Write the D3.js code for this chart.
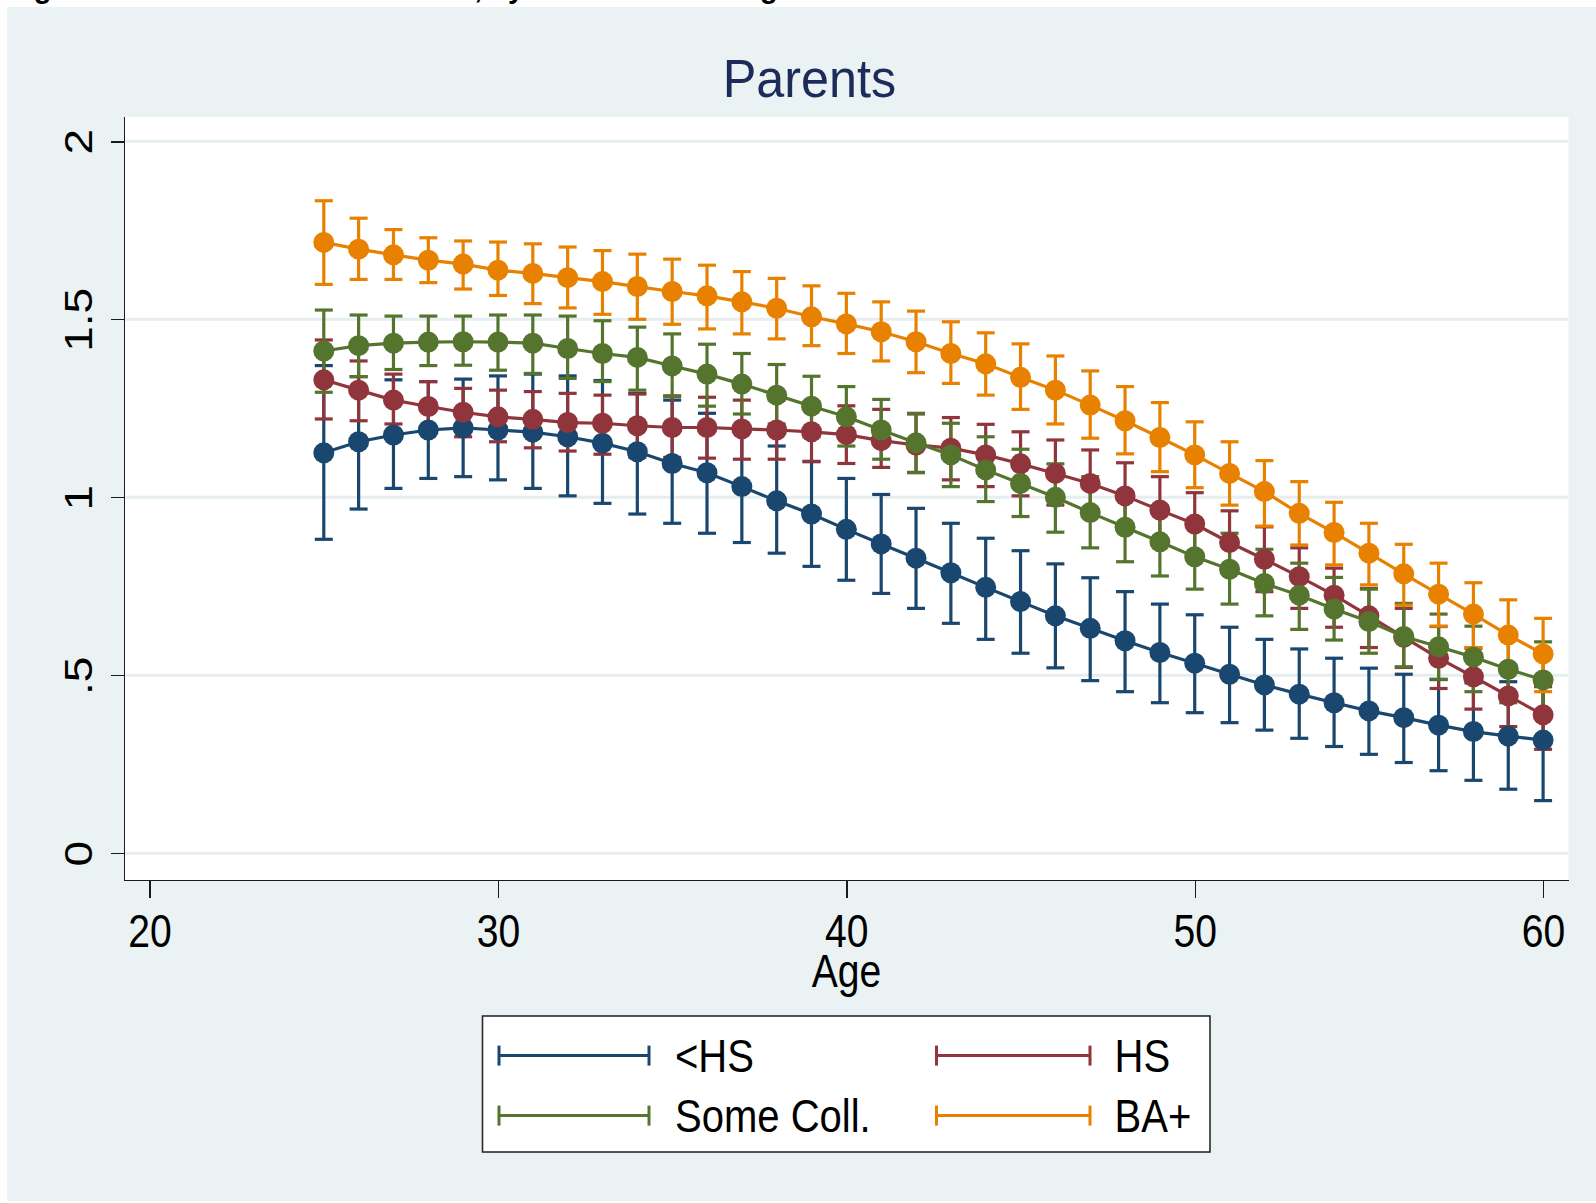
<!DOCTYPE html>
<html>
<head>
<meta charset="utf-8">
<script src="https://cdn.jsdelivr.net/npm/d3@7"></script>
<style>
  html, body { margin: 0; padding: 0; background: #ffffff; }
  svg { display: block; }
  text { font-family: "Liberation Sans", Arial, Helvetica, sans-serif; }
</style>
</head>
<body>
<script>
// Ages on the x axis
const ages = [25,26,27,28,29,30,31,32,33,34,35,36,37,38,39,40,41,42,
              43,44,45,46,47,48,49,50,51,52,53,54,55,56,57,58,59,60];

// <HS
const lessHsMean  = [1.125,1.156,1.175,1.189,1.195,1.189,1.183,1.170,1.152,1.128,1.095,1.069,1.030,0.990,0.953,0.910,0.869,0.829,
                     0.788,0.747,0.707,0.667,0.632,0.597,0.564,0.534,0.503,0.473,0.447,0.423,0.400,0.381,0.360,0.342,0.329,0.318];
const lessHsLower = [0.882,0.967,1.025,1.053,1.058,1.049,1.025,1.004,0.983,0.953,0.927,0.899,0.873,0.843,0.806,0.767,0.730,0.688,
                     0.646,0.601,0.562,0.521,0.485,0.454,0.423,0.395,0.367,0.346,0.323,0.300,0.278,0.255,0.232,0.205,0.180,0.148];
const lessHsUpper = [1.370,1.339,1.330,1.325,1.332,1.341,1.346,1.341,1.328,1.292,1.273,1.236,1.187,1.144,1.100,1.053,1.008,0.969,
                     0.927,0.885,0.850,0.813,0.774,0.735,0.700,0.670,0.635,0.601,0.574,0.548,0.520,0.503,0.488,0.479,0.482,0.488];

// HS
const hsMean  = [1.330,1.301,1.273,1.255,1.239,1.226,1.219,1.210,1.208,1.201,1.196,1.196,1.192,1.189,1.184,1.176,1.159,1.147,
                 1.138,1.119,1.094,1.067,1.039,1.004,0.964,0.925,0.873,0.826,0.777,0.725,0.667,0.607,0.548,0.496,0.442,0.389];
const hsLower = [1.220,1.215,1.206,1.183,1.170,1.156,1.139,1.130,1.121,1.112,1.112,1.110,1.107,1.107,1.101,1.095,1.084,1.070,
                 1.049,1.030,1.004,0.978,0.946,0.913,0.875,0.843,0.786,0.735,0.688,0.635,0.578,0.522,0.463,0.405,0.356,0.292];
const hsUpper = [1.442,1.383,1.346,1.325,1.306,1.301,1.297,1.292,1.287,1.290,1.285,1.281,1.273,1.273,1.268,1.257,1.247,1.234,
                 1.224,1.205,1.184,1.161,1.133,1.097,1.058,1.013,0.962,0.917,0.858,0.801,0.744,0.688,0.637,0.576,0.529,0.468];

// Some Coll.
const someCollMean  = [1.411,1.426,1.433,1.436,1.437,1.436,1.433,1.418,1.404,1.393,1.369,1.346,1.318,1.287,1.256,1.226,1.189,1.153,
                       1.119,1.077,1.039,1.000,0.957,0.916,0.875,0.833,0.798,0.758,0.725,0.686,0.651,0.609,0.580,0.551,0.517,0.487];
const someCollLower = [1.295,1.339,1.359,1.370,1.371,1.357,1.348,1.334,1.325,1.301,1.283,1.256,1.234,1.206,1.170,1.144,1.107,1.069,
                       1.030,0.988,0.946,0.902,0.858,0.819,0.779,0.742,0.700,0.667,0.629,0.599,0.562,0.524,0.489,0.454,0.423,0.393];
const someCollUpper = [1.526,1.512,1.509,1.509,1.509,1.512,1.512,1.509,1.496,1.478,1.459,1.430,1.404,1.373,1.340,1.311,1.275,1.236,
                       1.208,1.170,1.135,1.094,1.058,1.016,0.976,0.936,0.899,0.854,0.815,0.775,0.742,0.702,0.672,0.638,0.608,0.594];

// BA+
const baMean  = [1.716,1.697,1.681,1.666,1.655,1.638,1.629,1.617,1.606,1.592,1.578,1.566,1.549,1.531,1.507,1.487,1.465,1.437,
                 1.404,1.375,1.337,1.301,1.259,1.215,1.168,1.119,1.067,1.016,0.955,0.901,0.843,0.785,0.728,0.672,0.613,0.560];
const baLower = [1.598,1.612,1.612,1.603,1.585,1.567,1.544,1.532,1.514,1.500,1.486,1.473,1.459,1.445,1.426,1.404,1.383,1.350,
                 1.320,1.287,1.247,1.206,1.166,1.122,1.072,1.027,0.978,0.919,0.866,0.810,0.754,0.697,0.638,0.578,0.520,0.454];
const baUpper = [1.833,1.784,1.752,1.729,1.720,1.717,1.712,1.703,1.693,1.683,1.669,1.652,1.634,1.615,1.594,1.573,1.549,1.523,
                 1.493,1.462,1.431,1.397,1.355,1.311,1.266,1.212,1.156,1.103,1.044,0.986,0.927,0.868,0.815,0.760,0.712,0.660];

const seriesNames  = ["<HS", "HS", "Some Coll.", "BA+"];
const seriesColors = ["#1a476f", "#90353b", "#55752f", "#e88000"];
const xTicks = [20, 30, 40, 50, 60];
const yTicks = [0, 0.5, 1, 1.5, 2];
const yTickLabels = ["0", ".5", "1", "1.5", "2"];

const series = [
  { mean: lessHsMean,   lo: lessHsLower,   hi: lessHsUpper },
  { mean: hsMean,       lo: hsLower,       hi: hsUpper },
  { mean: someCollMean, lo: someCollLower, hi: someCollUpper },
  { mean: baMean,       lo: baLower,       hi: baUpper }
].map((s, i) => ({
  name: seriesNames[i],
  color: seriesColors[i],
  points: ages.map((a, j) => ({ age: a, mean: s.mean[j], lo: s.lo[j], hi: s.hi[j] }))
}));

const W = 1596, H = 1203;
const svg = d3.select("body").append("svg").attr("width", W).attr("height", H);

// Caption line running off the top edge
svg.append("rect").attr("x", 0).attr("y", 0).attr("width", W).attr("height", H).attr("fill", "#ffffff");
svg.append("text")
  .attr("x", 8).attr("y", -2)
  .attr("font-family", "'Liberation Serif', 'Times New Roman', serif")
  .attr("font-weight", "bold").attr("font-size", 29).attr("fill", "#000")
  .text("Figure 3: Number of Parents Alive, by Education and Age");

// Graph region
svg.append("rect").attr("x", 7).attr("y", 7).attr("width", W - 7).attr("height", 1194).attr("fill", "#eaf2f3");

const plot = { left: 124.5, right: 1568.5, top: 117, bottom: 880.5 };
svg.append("rect")
  .attr("x", plot.left).attr("y", plot.top)
  .attr("width", plot.right - plot.left).attr("height", plot.bottom - plot.top)
  .attr("fill", "#ffffff");

const x = d3.scaleLinear().domain([20, 60]).range([149.6, 1543.1]);
const y = d3.scaleLinear().domain([0, 2]).range([853.3, 141.3]);

// Grid lines
svg.append("g").selectAll("line").data(yTicks).join("line")
  .attr("x1", plot.left + 1).attr("x2", plot.right)
  .attr("y1", d => y(d)).attr("y2", d => y(d))
  .attr("stroke", "#e6eef0").attr("stroke-width", 3);

// Axes
const xAxis = d3.axisBottom(x).tickValues(xTicks).tickSize(17).tickPadding(0).tickFormat(d3.format("d"));
const gx = svg.append("g").attr("transform", `translate(0,${plot.bottom})`).call(xAxis);
gx.select(".domain").attr("d", `M${plot.left},0H${plot.right}`).attr("stroke", "#1a1a1a").attr("stroke-width", 1.8);
gx.selectAll(".tick line").attr("stroke", "#1a1a1a").attr("stroke-width", 1.4);
gx.selectAll(".tick text")
  .attr("y", null).attr("dy", null)
  .attr("transform", "translate(0,66) scale(0.85,1)")
  .attr("font-size", 46).attr("fill", "#000").attr("text-anchor", "middle");

const yAxis = d3.axisLeft(y).tickValues(yTicks).tickSize(14).tickPadding(0)
  .tickFormat((d, i) => yTickLabels[i]);
const gy = svg.append("g").attr("transform", `translate(${plot.left},0)`).call(yAxis);
gy.select(".domain").attr("d", `M0,${plot.top}V${plot.bottom}`).attr("stroke", "#1a1a1a").attr("stroke-width", 1.8);
gy.selectAll(".tick line").attr("stroke", "#1a1a1a").attr("stroke-width", 1.4);
gy.selectAll(".tick text")
  .attr("x", null).attr("dy", null)
  .attr("transform", "translate(-33,0) scale(0.85,1) rotate(-90)")
  .attr("font-size", 46).attr("fill", "#000").attr("text-anchor", "middle");
svg.selectAll(".domain, .tick line").attr("shape-rendering", "crispEdges");

// Axis title
svg.append("text")
  .attr("transform", `translate(${(plot.left + plot.right) / 2},987) scale(0.85,1)`)
  .attr("text-anchor", "middle").attr("font-size", 46).attr("fill", "#000")
  .text("Age");

// Chart title
svg.append("text")
  .attr("transform", "translate(809.5,96.5) scale(0.95,1)")
  .attr("text-anchor", "middle").attr("font-size", 53).attr("fill", "#1c2b5a")
  .text("Parents");

// Confidence-interval caps
const capHalf = 9;
const gBars = svg.append("g");
series.forEach(s => {
  const g = gBars.append("g").attr("stroke", s.color).attr("stroke-width", 3.2).attr("fill", "none");
  g.selectAll("line.v").data(s.points).join("line").attr("class", "v")
    .attr("x1", d => x(d.age)).attr("x2", d => x(d.age))
    .attr("y1", d => y(d.hi)).attr("y2", d => y(d.lo));
  g.selectAll("line.t").data(s.points).join("line").attr("class", "t")
    .attr("x1", d => x(d.age) - capHalf).attr("x2", d => x(d.age) + capHalf)
    .attr("y1", d => y(d.hi)).attr("y2", d => y(d.hi));
  g.selectAll("line.b").data(s.points).join("line").attr("class", "b")
    .attr("x1", d => x(d.age) - capHalf).attr("x2", d => x(d.age) + capHalf)
    .attr("y1", d => y(d.lo)).attr("y2", d => y(d.lo));
});

// Connected means
const line = d3.line().x(d => x(d.age)).y(d => y(d.mean));
const gLines = svg.append("g");
series.forEach(s => {
  gLines.append("path").datum(s.points)
    .attr("d", line).attr("fill", "none")
    .attr("stroke", s.color).attr("stroke-width", 3.2);
  gLines.append("g").selectAll("circle").data(s.points).join("circle")
    .attr("cx", d => x(d.age)).attr("cy", d => y(d.mean)).attr("r", 10.5)
    .attr("fill", s.color);
});

// Legend
const legend = svg.append("g");
legend.append("rect")
  .attr("x", 482.5).attr("y", 1016).attr("width", 727.5).attr("height", 136)
  .attr("fill", "#ffffff").attr("stroke", "#2a2a2a").attr("stroke-width", 1.6);
const colX = [[499, 649, 675], [936.5, 1090, 1114.5]];
const rowY = [1055.6, 1115.6];
series.forEach((s, i) => {
  const c = colX[i % 2], ry = rowY[Math.floor(i / 2)];
  const g = legend.append("g").attr("stroke", s.color).attr("stroke-width", 3);
  g.append("line").attr("x1", c[0]).attr("x2", c[1]).attr("y1", ry).attr("y2", ry);
  g.append("line").attr("x1", c[0]).attr("x2", c[0]).attr("y1", ry - 10).attr("y2", ry + 10);
  g.append("line").attr("x1", c[1]).attr("x2", c[1]).attr("y1", ry - 10).attr("y2", ry + 10);
  legend.append("text")
    .attr("transform", `translate(${c[2]},${ry + 16.5}) scale(0.87,1)`)
    .attr("font-size", 46).attr("fill", "#000")
    .text(s.name);
});
</script>
</body>
</html>
